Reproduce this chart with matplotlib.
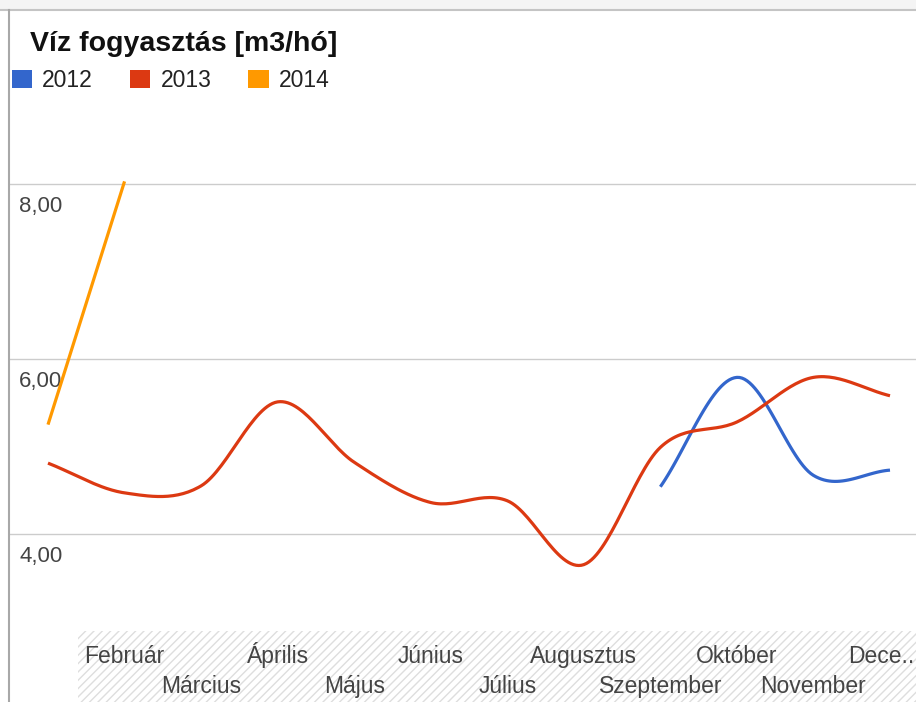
import numpy as np
import matplotlib
matplotlib.use('Agg')
import matplotlib.pyplot as plt
from matplotlib.patches import Rectangle
from matplotlib.lines import Line2D
import matplotlib.transforms as mtransforms

plt.rcParams['font.family'] = ['Liberation Sans', 'DejaVu Sans']
plt.rcParams['hatch.linewidth'] = 1.0
plt.rcParams['hatch.color'] = '#dedede'

# data
months = ['Január', 'Február', 'Március', 'Április', 'Május', 'Június',
          'Július', 'Augusztus', 'Szeptember', 'Október', 'November', 'December']
tick_labels = ['', 'Február', 'Március', 'Április', 'Május', 'Június',
               'Július', 'Augusztus', 'Szeptember', 'Október', 'November', 'Dece..']
v2012 = [None, None, None, None, None, None, None, None, 4.54, 5.79, 4.67, 4.73]
v2013 = [4.81, 4.47, 4.55, 5.51, 4.82, 4.36, 4.38, 3.65, 4.99, 5.28, 5.79, 5.58]
v2014 = [5.25, 8.03, None, None, None, None, None, None, None, None, None, None]
series = ['2012', '2013', '2014']
colors = ['#3366cc', '#dc3912', '#ff9900']
yticks = [4, 6, 8]
yticklabels = ['4,00', '6,00', '8,00']


def smooth(xs, ys, n=30):
    # cubic hermite through the points (google "function" curve look)
    xs = np.asarray(xs, float)
    ys = np.asarray(ys, float)
    if len(xs) < 3:
        return xs, ys
    m = np.zeros_like(ys)
    m[1:-1] = (ys[2:] - ys[:-2]) / (xs[2:] - xs[:-2])
    m[0] = (ys[1] - ys[0]) / (xs[1] - xs[0])
    m[-1] = (ys[-1] - ys[-2]) / (xs[-1] - xs[-2])
    ox, oy = [], []
    for i in range(len(xs) - 1):
        h = xs[i + 1] - xs[i]
        t = np.linspace(0, 1, n, endpoint=(i == len(xs) - 2))
        h00 = 2 * t**3 - 3 * t**2 + 1
        h10 = t**3 - 2 * t**2 + t
        h01 = -2 * t**3 + 3 * t**2
        h11 = t**3 - t**2
        ox.append(xs[i] + t * h)
        oy.append(h00 * ys[i] + h10 * h * m[i] + h01 * ys[i + 1] + h11 * h * m[i + 1])
    return np.concatenate(ox), np.concatenate(oy)


W, H = 916, 702
fig = plt.figure(figsize=(W / 100, H / 100), dpi=100)

# plot area in pixels: left 10, right 916, top 100, bottom 630
ax = fig.add_axes([10 / W, (H - 630) / H, (W - 10) / W, (630 - 100) / H])
ax.set_facecolor('none')
pxu = (890 - 48) / 11
ax.set_xlim(-38 / pxu, 11 + 26 / pxu)
ax.set_ylim(4 - 96 / 87.5, 4 + 434 / 87.5)

for v in yticks:
    ax.axhline(v, color='#cccccc', lw=1.0, zorder=1)
for v, lab in zip(yticks, yticklabels):
    ax.annotate(lab, xy=(0, v), xycoords=('axes fraction', 'data'),
                xytext=(6.5, -20.2), textcoords='offset points',
                fontsize=16, color='#444444', va='baseline', ha='left')

x = np.arange(len(months))
for name, vals, c in zip(series, [v2012, v2013, v2014], colors):
    pts = [(xi, v) for xi, v in zip(x, vals) if v is not None]
    sx, sy = smooth([p[0] for p in pts], [p[1] for p in pts])
    ax.plot(sx, sy, color=c, lw=2.3, solid_capstyle='butt', zorder=3, label=name)

# staggered month labels, two rows below the plot area
ax.set_xticks([])
ax.set_yticks([])
trans = mtransforms.blended_transform_factory(ax.transData, fig.transFigure)
for i, lab in enumerate(tick_labels):
    if not lab:
        continue
    base = 663 if i % 2 == 1 else 693
    if i == len(tick_labels) - 1:
        # truncated last label sits flush with the right edge
        ax.text(ax.get_xlim()[1] - 1.5 / pxu, 1 - base / H, lab, transform=trans,
                fontsize=16.5, color='#444444', ha='right', va='baseline', clip_on=False)
        continue
    ax.text(x[i], 1 - base / H, lab, transform=trans, fontsize=16.5,
            color='#444444', ha='center', va='baseline', clip_on=False)
for s in ax.spines.values():
    s.set_visible(False)

# hatched band behind x labels
fig.patches.append(Rectangle((78 / W, 0), (W - 78) / W, 71 / H, transform=fig.transFigure,
                             facecolor='white', edgecolor='#dedede', hatch='////',
                             lw=0, zorder=-1))

# widget frame
fig.patches.append(Rectangle((0, (H - 10) / H), 1, 10 / H, transform=fig.transFigure,
                             facecolor='#f4f4f4', lw=0, zorder=-1))
fig.lines.append(Line2D([0, 1], [(H - 10) / H] * 2, transform=fig.transFigure,
                        color='#c4c4c4', lw=1.5))
fig.lines.append(Line2D([9 / W, 9 / W], [0, (H - 10) / H], transform=fig.transFigure,
                        color='#a8a8a8', lw=1.5))

fig.text(30 / W, 1 - 51 / H, 'Víz fogyasztás [m3/hó]', fontsize=20.5,
         fontweight='bold', color='#111111', va='baseline', ha='left')

handles = [Rectangle((0, 0), 1, 1, facecolor=c, edgecolor='none') for c in colors]
fig.legend(handles, series, loc='upper left', bbox_to_anchor=(12 / W, 1 - 69 / H),
           ncol=3, frameon=False, fontsize=16.5, borderpad=0, borderaxespad=0,
           handlelength=0.88, handleheight=0.8, handletextpad=0.44,
           columnspacing=1.62, labelcolor='#222222')

fig.savefig('out.png', dpi=100)
